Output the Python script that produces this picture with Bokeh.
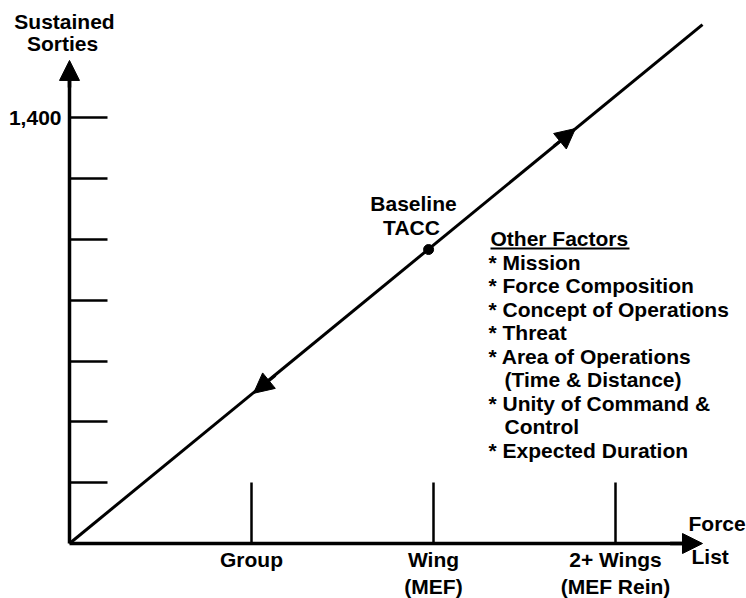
from bokeh.plotting import figure
from bokeh.models import (Range1d, LinearAxis, FixedTicker, Arrow, NormalHead,
                          Label, ColumnDataSource)
from bokeh.embed import file_html
from bokeh.resources import INLINE
from bokeh.core.properties import value

# ---------------- data ----------------
y_ticks = [200, 400, 600, 800, 1000, 1200, 1400]
y_tick_text = {1400: "1,400"}
force_ticks = [1, 2, 3]
force_labels = ["Group", "Wing\n(MEF)", "2+ Wings\n(MEF Rein)"]

line_x = [0, 3.478]
line_y = [0, 1707]
baseline_x = [1.973]
baseline_y = [967]
arrow_up_tip = (2.78, 1365)
arrow_down_tip = (1.011, 494)

y_title = ["Sustained", "Sorties"]
x_title = ["Force", "List"]
baseline_text = ["Baseline", "TACC"]
factors_title = "Other Factors"
factors = ["* Mission", "* Force Composition", "* Concept of Operations",
           "* Threat", "* Area of Operations", "(Time & Distance)",
           "* Unity of Command &", "Control", "* Expected Duration"]
factor_indent = [0, 0, 0, 0, 0, 1, 0, 1, 0]

# ---------------- style ----------------
FONT = "Liberation Sans"
FS = "21px"
W, H = 746, 598
OX, OY = 69, 543          # pixel position of the origin
PXX = 182.0               # px per x unit
PXY = 0.304               # px per y unit

p = figure(width=W, height=H,
           x_range=Range1d(-OX / PXX, (W - OX) / PXX),
           y_range=Range1d(-(H - OY) / PXY, OY / PXY),
           output_backend="svg", toolbar_location=None,
           x_axis_location=None, y_axis_location=None,
           min_border=0)
p.outline_line_color = None
p.grid.visible = False
p.background_fill_color = "white"
p.border_fill_color = "white"

yaxis = LinearAxis(ticker=FixedTicker(ticks=y_ticks), fixed_location=0,
                   major_label_overrides={t: y_tick_text.get(t, "") for t in y_ticks},
                   bounds=(0, 1540), axis_line_width=3.5, axis_line_color="black",
                   major_tick_line_width=2.5, major_tick_line_color="black",
                   major_tick_in=38, major_tick_out=0, minor_tick_line_color=None,
                   major_label_standoff=8, major_label_text_font=FONT,
                   major_label_text_font_style="bold", major_label_text_font_size=FS,
                   major_label_text_color="black")
p.add_layout(yaxis, "left")

xaxis = LinearAxis(ticker=FixedTicker(ticks=force_ticks), fixed_location=0,
                   major_label_overrides={t: l for t, l in zip(force_ticks, force_labels)},
                   bounds=(0, 3.38), axis_line_width=3.5, axis_line_color="black",
                   major_tick_line_width=2.5, major_tick_line_color="black",
                   major_tick_in=61, major_tick_out=0, minor_tick_line_color=None,
                   major_label_standoff=4, major_label_text_font=FONT,
                   major_label_text_font_style="bold", major_label_text_font_size=FS,
                   major_label_text_color="black")
p.add_layout(xaxis, "below")

# axis arrowheads
p.add_layout(Arrow(end=NormalHead(size=20, fill_color="black", line_color="black", line_width=1),
                   x_start=0, y_start=1500, x_end=0, y_end=1589,
                   line_width=3.5, line_color="black"))
p.add_layout(Arrow(end=NormalHead(size=20, fill_color="black", line_color="black", line_width=1),
                   x_start=3.3, y_start=0, x_end=3.478, y_end=0,
                   line_width=3.5, line_color="black"))

# diagonal line
p.line(line_x, line_y, line_width=3, line_color="black")
p.scatter(baseline_x, baseline_y, size=10, color="black")

slope = line_y[1] / line_x[1]
for tip, back in ((arrow_up_tip, -0.12), (arrow_down_tip, 0.12)):
    p.add_layout(Arrow(end=NormalHead(size=20, fill_color="black", line_color="black", line_width=1),
                       x_start=tip[0] + back, y_start=tip[1] + back * slope,
                       x_end=tip[0], y_end=tip[1], line_width=3, line_color="black"))


def xd(px):
    return (px - OX) / PXX


def yd(py):
    return (OY - py) / PXY


def lab(text, x, y, align="left"):
    p.add_layout(Label(x=x, y=y, text=text, text_font=FONT, text_font_style="bold",
                       text_font_size=FS, text_color="black", text_align=align,
                       text_baseline="alphabetic"))


# y title
lab(y_title[0], xd(64), yd(21), "center")
lab(y_title[1], xd(62), yd(43), "center")
# x title
lab(x_title[0], xd(688), yd(523))
lab(x_title[1], xd(691), yd(556))
# baseline annotation
lab(baseline_text[0], xd(413), yd(203), "center")
lab(baseline_text[1], xd(411), yd(227), "center")

# other factors
lab(factors_title, xd(490), yd(238))
p.segment(x0=[xd(490)], y0=[yd(248)], x1=[xd(490) + 139 / PXX], y1=[yd(248)],
          line_width=2, line_color="black")
src = ColumnDataSource(dict(
    x=[xd(488 + 16 * ind) for ind in factor_indent],
    y=[yd(238 + 23.5 * (i + 1)) for i in range(len(factors))],
    t=factors))
p.text(x="x", y="y", text="t", source=src, text_font=value(FONT), text_font_style="bold",
       text_font_size=FS, text_color="black", text_baseline="alphabetic", text_align="left")

open("out.html", "w").write(file_html(p, INLINE))
